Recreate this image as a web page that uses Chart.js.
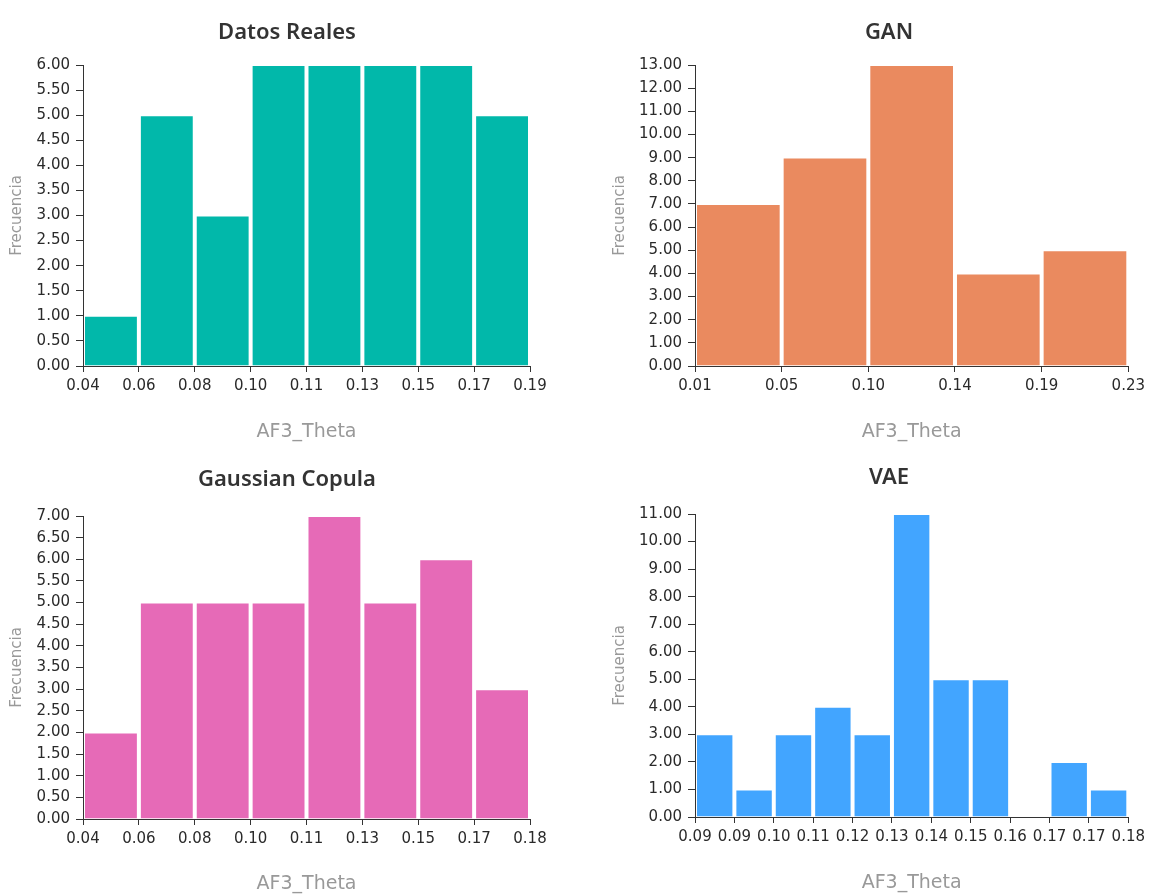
<!DOCTYPE html>
<html>
<head>
<meta charset="utf-8">
<script src="https://cdn.jsdelivr.net/npm/chart.js@4.4.0/dist/chart.umd.min.js"></script>
<style>
  body { margin: 0; background: #fff; }
  .panel { position: absolute; }
  .panel canvas { position: absolute; left: 0; top: 0; }
  .title {
    position: absolute;
    width: 400px;
    text-align: center;
    font: 600 22px "Noto Sans";
    line-height: 26px;
    color: #333;
  }
</style>
</head>
<body>
<div class="panel" style="left:0;top:0;width:575px;height:447px">
  <canvas id="realChart" width="575" height="447"></canvas>
  <div class="title" style="left:87px;top:17px">Datos Reales</div>
</div>
<div class="panel" style="left:575px;top:0;width:575px;height:447px">
  <canvas id="ganChart" width="575" height="447"></canvas>
  <div class="title" style="left:114px;top:17px">GAN</div>
</div>
<div class="panel" style="left:0;top:447px;width:575px;height:448px">
  <canvas id="copulaChart" width="575" height="448"></canvas>
  <div class="title" style="left:87px;top:17px">Gaussian Copula</div>
</div>
<div class="panel" style="left:575px;top:447px;width:575px;height:448px">
  <canvas id="vaeChart" width="575" height="448"></canvas>
  <div class="title" style="left:114px;top:15px">VAE</div>
</div>

<script>
// bin edges (tick labels) and counts per bin
const realEdges = ["0.04", "0.06", "0.08", "0.10", "0.11", "0.13", "0.15", "0.17", "0.19"];
const realCounts = [1, 5, 3, 6, 6, 6, 6, 5];

const ganEdges = ["0.01", "0.05", "0.10", "0.14", "0.19", "0.23"];
const ganCounts = [7, 9, 13, 4, 5];

const copulaEdges = ["0.04", "0.06", "0.08", "0.10", "0.11", "0.13", "0.15", "0.17", "0.18"];
const copulaCounts = [2, 5, 5, 5, 7, 5, 6, 3];

const vaeEdges = ["0.09", "0.09", "0.10", "0.11", "0.12", "0.13", "0.14", "0.15", "0.16", "0.17", "0.17", "0.18"];
const vaeCounts = [3, 1, 3, 4, 3, 11, 5, 5, 0, 2, 1];

const AXIS_FONT = "DejaVu Sans";
const BAR_GAP = 2; // px of white between neighbouring bars

function drawHistogram(id, edges, counts, color, yMax, yStep, box) {
  const canvas = document.getElementById(id);
  const plotWidth = canvas.width - box.right - box.yWidth;
  const binPx = plotWidth / counts.length;

  new Chart(canvas, {
    type: "bar",
    data: {
      datasets: [
        {
          data: counts.map((c, i) => ({ x: i + 0.5, y: c })),
          backgroundColor: color,
          borderColor: "rgba(255, 255, 255, 0.4)",
          borderWidth: 1,
          barPercentage: 1,
          categoryPercentage: 1 - BAR_GAP / binPx,
        },
      ],
    },
    options: {
      responsive: false,
      animation: false,
      layout: {
        padding: { top: box.top, right: box.right, left: 0, bottom: 0 },
      },
      plugins: {
        legend: { display: false },
        tooltip: { enabled: false },
      },
      scales: {
        x: {
          type: "linear",
          min: 0,
          max: counts.length,
          offset: false,
          grid: {
            offset: false,
            drawOnChartArea: false,
            drawTicks: true,
            tickLength: 6,
            color: "#333",
          },
          border: { color: "#333" },
          ticks: {
            stepSize: 1,
            autoSkip: false,
            maxRotation: 0,
            padding: 5,
            color: "#2a2a2a",
            font: { family: AXIS_FONT, size: 15 },
            callback: (v, i) => edges[i],
          },
          title: {
            display: true,
            text: "AF3_Theta",
            color: "#999",
            font: { family: AXIS_FONT, size: 19 },
            padding: { top: 0, bottom: box.xTitlePad },
          },
          afterFit: (scale) => {
            scale.height = box.xHeight;
          },
        },
        y: {
          min: 0,
          max: yMax,
          grid: {
            drawOnChartArea: false,
            drawTicks: true,
            tickLength: 7,
            color: "#333",
          },
          border: { color: "#333" },
          ticks: {
            stepSize: yStep,
            padding: 6,
            color: "#2a2a2a",
            font: { family: AXIS_FONT, size: 15 },
            callback: (v) => v.toFixed(2),
          },
          title: {
            display: true,
            text: "Frecuencia",
            color: "#999",
            font: { family: AXIS_FONT, size: 15 },
            padding: { top: box.yTitlePad, bottom: 0 },
          },
          afterFit: (scale) => {
            scale.width = box.yWidth;
          },
        },
      },
    },
  });
}

drawHistogram("realChart", realEdges, realCounts, "#01B8AA", 6, 0.5,
  { top: 65, right: 45, yWidth: 83, xHeight: 81, yTitlePad: 8, xTitlePad: 4 });
drawHistogram("ganChart", ganEdges, ganCounts, "#EA8A5F", 13, 1,
  { top: 65, right: 19, yWidth: 120, xHeight: 81, yTitlePad: 36, xTitlePad: 4 });
drawHistogram("copulaChart", copulaEdges, copulaCounts, "#E66AB7", 7, 0.5,
  { top: 69, right: 45, yWidth: 83, xHeight: 76, yTitlePad: 8, xTitlePad: 0 });
drawHistogram("vaeChart", vaeEdges, vaeCounts, "#42A5FF", 11, 1,
  { top: 67, right: 17, yWidth: 120, xHeight: 78, yTitlePad: 36, xTitlePad: 1 });
</script>
</body>
</html>
